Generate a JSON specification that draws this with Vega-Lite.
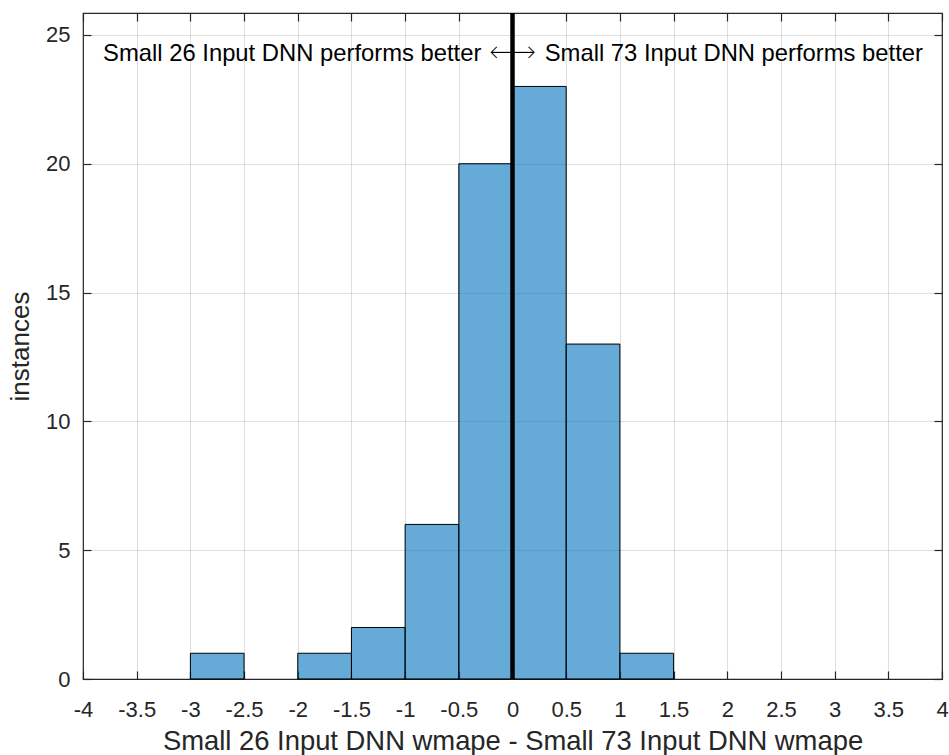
{
  "$schema": "https://vega.github.io/schema/vega-lite/v6.json",
  "autosize": {"type": "none"},
  "width": 859,
  "height": 666,
  "padding": {"left": 83, "top": 13, "right": 7, "bottom": 76},
  "background": "white",
  "config": {
    "view": {"stroke": "#262626", "strokeWidth": 1.2},
    "font": "Liberation Sans",
    "axis": {
      "domain": false,
      "tickColor": "#262626",
      "tickWidth": 1.2,
      "labelColor": "#262626",
      "labelFont": "Liberation Sans",
      "labelFontSize": 22,
      "titleColor": "#262626",
      "titleFont": "Liberation Sans",
      "titleFontSize": 27.4,
      "titleFontWeight": "normal",
      "gridColor": "#262626",
      "gridOpacity": 0.15,
      "gridWidth": 1
    }
  },
  "datasets": {
    "bins": [
      {"bin_start": -3.0, "bin_end": -2.5, "count": 1},
      {"bin_start": -2.0, "bin_end": -1.5, "count": 1},
      {"bin_start": -1.5, "bin_end": -1.0, "count": 2},
      {"bin_start": -1.0, "bin_end": -0.5, "count": 6},
      {"bin_start": -0.5, "bin_end": 0.0, "count": 20},
      {"bin_start": 0.0, "bin_end": 0.5, "count": 23},
      {"bin_start": 0.5, "bin_end": 1.0, "count": 13},
      {"bin_start": 1.0, "bin_end": 1.5, "count": 1}
    ]
  },
  "layer": [
    {
      "data": {"name": "bins"},
      "mark": {"type": "bar", "fill": "#0072BD", "fillOpacity": 0.6, "stroke": "#000000", "strokeWidth": 1},
      "encoding": {
        "x": {
          "field": "bin_start", "type": "quantitative",
          "scale": {"domain": [-4, 4], "nice": false, "zero": false},
          "axis": {
            "orient": "bottom", "values": [-4, -3.5, -3, -2.5, -2, -1.5, -1, -0.5, 0, 0.5, 1, 1.5, 2, 2.5, 3, 3.5, 4],
            "ticks": false,
            "labelExpr": "datum.value",
            "labelPadding": 20, "labelFlush": false, "labelOverlap": false, "labelBound": false,
            "title": "Small 26 Input DNN wmape - Small 73 Input DNN wmape",
            "titlePadding": 7, "grid": true
          }
        },
        "x2": {"field": "bin_end"},
        "y": {
          "field": "count", "type": "quantitative",
          "scale": {"domain": [0, 25.85], "nice": false},
          "axis": {
            "orient": "left", "values": [0, 5, 10, 15, 20, 25],
            "ticks": false,
            "labelPadding": 13, "labelFlush": false, "labelOverlap": false,
            "title": "instances", "titleFontSize": 26, "titlePadding": 12, "grid": true
          }
        },
        "y2": {"datum": 0}
      }
    },
    {
      "data": {"values": [{"x": -0.29, "y": 24.25, "label": "Small 26 Input DNN performs better"}]},
      "mark": {"type": "text", "align": "right", "baseline": "middle", "fontSize": 23.8, "color": "#000000", "font": "Liberation Sans"},
      "encoding": {
        "x": {
          "field": "x", "type": "quantitative",
          "axis": {
            "orient": "top", "offset": -8, "tickSize": 8, "values": [-4, -3.5, -3, -2.5, -2, -1.5, -1, -0.5, 0, 0.5, 1, 1.5, 2, 2.5, 3, 3.5, 4],
            "labels": false, "title": null, "grid": false
          }
        },
        "y": {
          "field": "y", "type": "quantitative",
          "axis": {"orient": "left", "offset": -8, "tickSize": 8, "values": [0, 5, 10, 15, 20, 25], "labels": false, "title": null, "grid": false}
        },
        "text": {"field": "label"}
      }
    },
    {
      "data": {"values": [{"x": 0, "y": 24.3, "label": "⟷"}]},
      "mark": {"type": "text", "align": "center", "baseline": "middle", "fontSize": 34, "fill": "#000000", "stroke": "#ffffff", "strokeWidth": 1.6, "font": "DejaVu Sans"},
      "encoding": {
        "x": {"field": "x", "type": "quantitative", "axis": null},
        "y": {
          "field": "y", "type": "quantitative",
          "axis": {"orient": "right", "offset": -8, "tickSize": 8, "values": [0, 5, 10, 15, 20, 25], "labels": false, "title": null, "grid": false}
        },
        "text": {"field": "label"}
      }
    },
    {
      "data": {"values": [{"x": 0.3, "y": 24.25, "label": "Small 73 Input DNN performs better"}]},
      "mark": {"type": "text", "align": "left", "baseline": "middle", "fontSize": 23.8, "color": "#000000", "font": "Liberation Sans"},
      "encoding": {
        "x": {"field": "x", "type": "quantitative", "axis": null},
        "y": {"field": "y", "type": "quantitative", "axis": null},
        "text": {"field": "label"}
      }
    },
    {
      "data": {"values": [{"x": 0}]},
      "mark": {"type": "rule", "color": "#000000", "strokeWidth": 4.5},
      "encoding": {
        "x": {
          "field": "x", "type": "quantitative",
          "axis": {
            "orient": "bottom", "offset": -8, "tickSize": 8, "values": [-4, -3.5, -3, -2.5, -2, -1.5, -1, -0.5, 0, 0.5, 1, 1.5, 2, 2.5, 3, 3.5, 4],
            "labels": false, "title": null, "grid": false
          }
        }
      }
    }
  ],
  "resolve": {"axis": {"x": "independent", "y": "independent"}}
}
